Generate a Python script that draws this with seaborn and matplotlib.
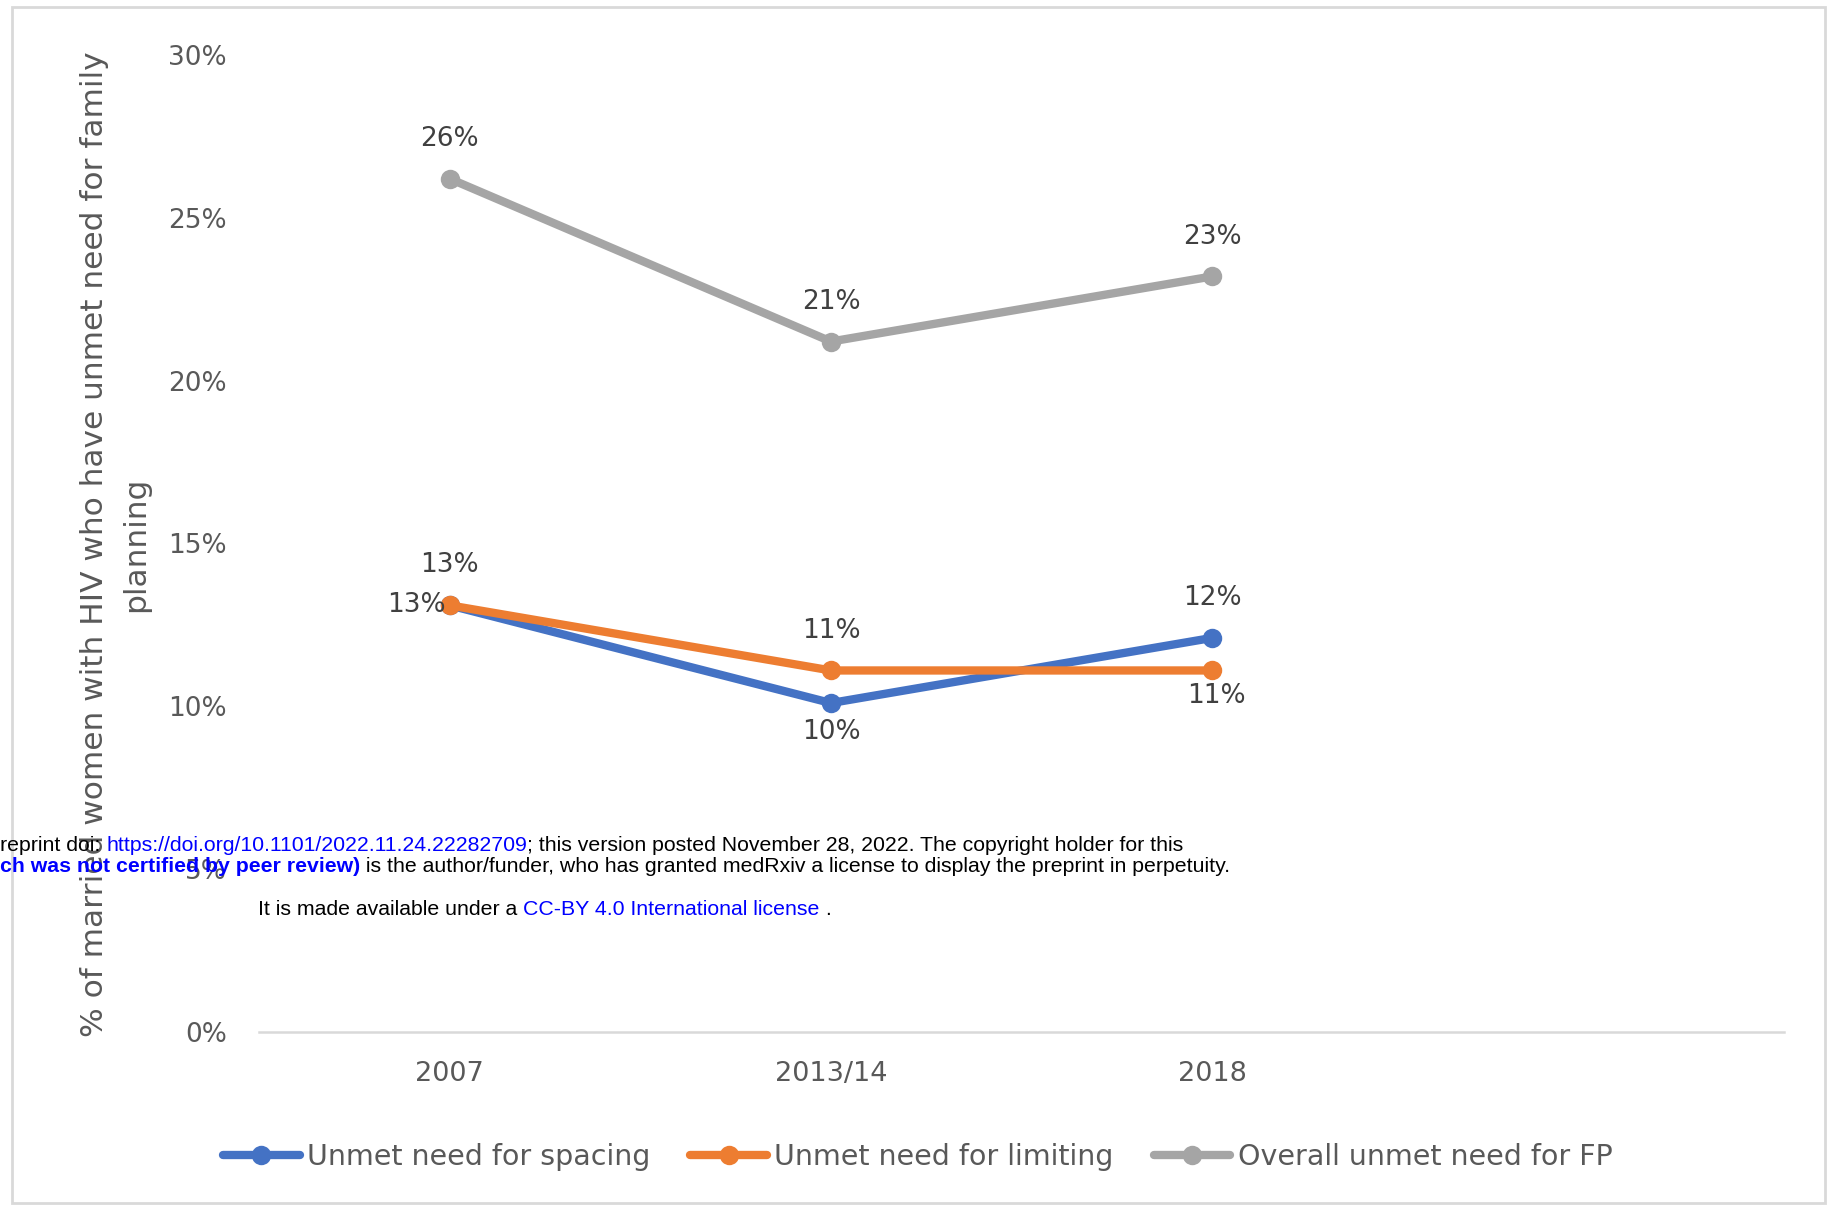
import seaborn as sns
import pandas as pd
import matplotlib.pyplot as plt
from matplotlib.patches import Rectangle
from matplotlib.ticker import PercentFormatter

# values
years = ["2007", "2013/14", "2018"]
spacing = [0.131, 0.101, 0.121]
limiting = [0.131, 0.111, 0.111]
overall = [0.262, 0.212, 0.232]
spacing_lbl = ["13%", "10%", "12%"]
limiting_lbl = ["13%", "11%", "11%"]
overall_lbl = ["26%", "21%", "23%"]
series = ["Unmet need for spacing", "Unmet need for limiting", "Overall unmet need for FP"]
colors = ["#4472C4", "#ED7D31", "#A5A5A5"]

df = pd.DataFrame({
    'year': years * 3,
    'value': spacing + limiting + overall,
    'series': [series[0]] * 3 + [series[1]] * 3 + [series[2]] * 3,
})

sns.set_style("white")
plt.rcParams['font.family'] = ['DejaVu Sans']

fig = plt.figure(figsize=(18.28, 12.05), dpi=100)
ax = fig.add_axes([0.1417, 0.1436, 0.8343, 0.8108])

sns.lineplot(data=df, x='year', y='value', hue='series', hue_order=series,
             palette=colors, marker='o', markersize=14, markeredgewidth=0,
             linewidth=6, ax=ax, legend=False, sort=False)

ax.set_ylim(0, 0.30)
ax.set_xlim(-0.5, 3.5)
ax.set_yticks([0, 0.05, 0.10, 0.15, 0.20, 0.25, 0.30])
ax.yaxis.set_major_formatter(PercentFormatter(1.0, decimals=0))
ax.set_xticks([0, 1, 2])
ax.set_xticklabels(years)
ax.set_xticks([-0.5, 0.5, 1.5, 2.5, 3.5], minor=True)
ax.tick_params(axis='y', length=0, pad=23, labelsize=19, labelcolor='#595959')
ax.tick_params(axis='x', which='major', length=0, pad=21, labelsize=19.5, labelcolor='#595959')
ax.tick_params(axis='x', which='minor', length=5, width=1.5, color='#D9D9D9', direction='out')
for s in ['left', 'top', 'right']:
    ax.spines[s].set_visible(False)
ax.spines['bottom'].set_color('#D9D9D9')
ax.spines['bottom'].set_linewidth(1.8)
ax.set_xlabel('')
ax.set_ylabel('')
ax.grid(False)

# data labels
offs = {
    0: [(-3, 0, 'right'), (0, -21, 'center'), (0, 28.5, 'center')],
    1: [(0, 29, 'center'), (0, 28.5, 'center'), (3, -18.5, 'center')],
    2: [(0, 28.5, 'center'), (0, 28.5, 'center'), (0, 28.5, 'center')],
}
vals = [spacing, limiting, overall]
lbls = [spacing_lbl, limiting_lbl, overall_lbl]
for k in range(3):
    for i in range(3):
        dx, dy, ha = offs[k][i]
        ax.annotate(lbls[k][i], xy=(i, vals[k][i]), xytext=(dx, dy),
                    textcoords='offset points', ha=ha, va='center',
                    fontsize=19, color='#404040')

# y label (two lines)
fig.text(0.063, 0.5485,
         "% of married women with HIV who have unmet need for family\nplanning",
         rotation=90, ha='center', va='center', fontsize=22.5, color='#595959',
         linespacing=1.55, multialignment='center')

# legend
fig.legend(handles=ax.lines[:3], labels=series, loc='center',
           bbox_to_anchor=(0.502, 0.0398), ncol=3, frameon=False,
           fontsize=20.5, handlelength=2.7, handletextpad=0.25,
           columnspacing=1.4, labelcolor='#595959')

# chart frame
fig.patches.append(Rectangle((12 / 1828, 2 / 1205), 1813 / 1828, 1196 / 1205,
                             transform=fig.transFigure, fill=False,
                             edgecolor='#D9D9D9', linewidth=2))

# preprint overlay text
wf = ['Liberation Sans', 'DejaVu Sans']
fs = 15.3


def chain(prev, txt, color='black', weight='normal'):
    return ax.annotate(txt, xy=(1, 0), xycoords=prev, ha='left', va='bottom',
                       fontsize=fs, color=color, fontweight=weight, family=wf,
                       annotation_clip=False)


t = fig.text(0.0, 1 - 851 / 1205, "reprint doi: ", fontsize=fs, family=wf,
             color='black', va='baseline', ha='left')
t = chain(t, "https://doi.org/10.1101/2022.11.24.22282709", color='#0000FF')
t = chain(t, "; this version posted November 28, 2022. The copyright holder for this")

t = fig.text(0.0, 1 - 872 / 1205, "ch was not certified by peer review)", fontsize=fs,
             family=wf, color='#0000FF', fontweight='bold', va='baseline', ha='left')
t = chain(t, " is the author/funder, who has granted medRxiv a license to display the preprint in perpetuity.")

t = fig.text(258 / 1828, 1 - 915 / 1205, "It is made available under a ", fontsize=fs,
             family=wf, color='black', va='baseline', ha='left')
t = chain(t, "CC-BY 4.0 International license", color='#0000FF')
t = chain(t, " .")

fig.savefig("out.png", dpi=100, facecolor='white')
